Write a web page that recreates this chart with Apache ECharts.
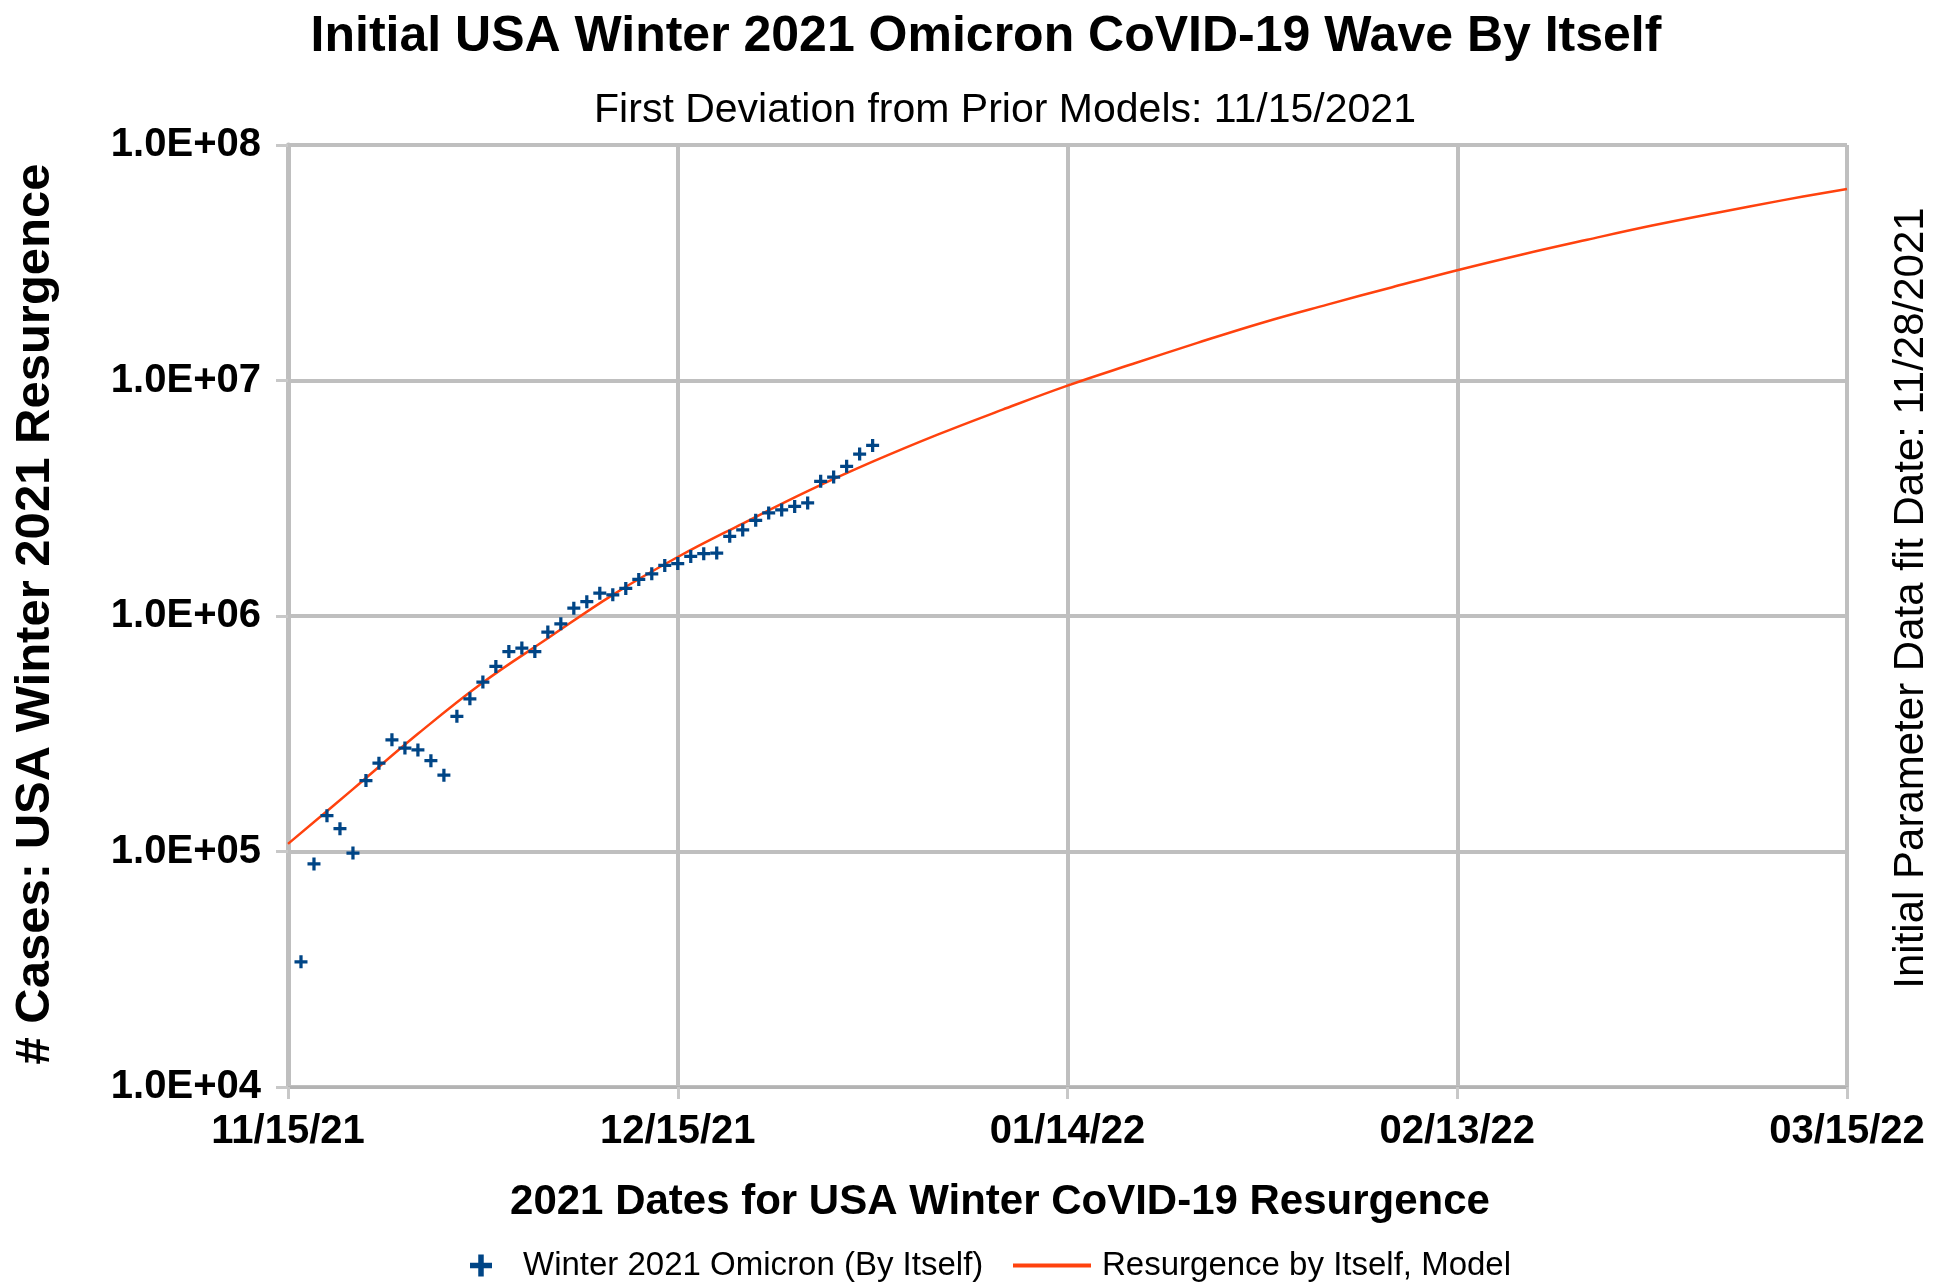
<!DOCTYPE html>
<html>
<head>
<meta charset="utf-8">
<title>Initial USA Winter 2021 Omicron CoVID-19 Wave By Itself</title>
<script src="https://cdn.jsdelivr.net/npm/echarts@6/dist/echarts.min.js"></script>
<style>
  html, body { margin: 0; padding: 0; background: #fff; }
  #chart { width: 1933px; height: 1282px; }
</style>
</head>
<body>
<div id="chart"></div>
<script>
// x axis counts days after 11/15/21
const xTickLabels = ['11/15/21', '12/15/21', '01/14/22', '02/13/22', '03/15/22']
const yTickLabels = ['1.0E+04', '1.0E+05', '1.0E+06', '1.0E+07', '1.0E+08']

// daily cases, first point is 11/16/21 (day 1)
const caseStartDay = 1
const caseValues = [
  34000, 88500, 142000, 125000, 98500, 200000, 237000, 298000, 275000, 270000,
  243000, 211000, 375000, 445000, 524000, 611000, 706000, 731000, 706000, 855000,
  927000, 1080000, 1150000, 1250000, 1230000, 1310000, 1430000, 1510000, 1640000, 1670000,
  1790000, 1840000, 1850000, 2180000, 2320000, 2550000, 2740000, 2820000, 2920000, 3020000,
  3730000, 3890000, 4320000, 4870000, 5300000
]

// model curve, read every 5 days
const modelDays = [0, 5, 10, 15, 20, 25, 30, 35, 40, 45, 50, 55, 60,
  65, 70, 75, 80, 85, 90, 95, 100, 105, 110, 115, 120]
const modelValues = [
  107700, 184000, 316000, 522000, 804000, 1230000, 1780000, 2470000, 3390000, 4520000,
  5890000, 7520000, 9510000, 11750000, 14450000, 17600000, 21000000, 24900000, 29400000,
  34300000, 39600000, 45500000, 51600000, 58200000, 65000000
]

const caseName = 'Winter 2021 Omicron (By Itself)'
const modelName = 'Resurgence by Itself, Model'
const FONT = '"Liberation Sans", Arial, sans-serif'
const plusPath = 'path://M4.5,0H7.5V4.5H12V7.5H7.5V12H4.5V7.5H0V4.5H4.5Z'

const getChartOption = () => {
  const caseData = caseValues.map((v, i) => [caseStartDay + i, v])
  const modelData = modelDays.map((d, i) => [d, modelValues[i]])

  return {
    backgroundColor: '#fff',
    animation: false,
    grid: { left: 288, right: 86, top: 145, bottom: 195 },
    xAxis: {
      type: 'value',
      min: 0,
      max: 120,
      interval: 30,
      axisLine: { show: true, lineStyle: { color: '#b3b3b3', width: 3 } },
      axisTick: { show: true, length: 12, lineStyle: { color: '#c8c8c8', width: 3 } },
      splitLine: { show: true, lineStyle: { color: '#bfbfbf', width: 4 } },
      axisLabel: {
        margin: 25,
        fontFamily: FONT,
        fontWeight: 'bold',
        fontSize: 40,
        color: '#000',
        formatter: (v) => xTickLabels[Math.round(v / 30)] || ''
      }
    },
    yAxis: {
      type: 'log',
      logBase: 10,
      min: 1e4,
      max: 1e8,
      axisLine: { show: true, lineStyle: { color: '#bfbfbf', width: 5 } },
      axisTick: { show: true, length: 12, lineStyle: { color: '#c8c8c8', width: 3 } },
      splitLine: { show: true, lineStyle: { color: '#bfbfbf', width: 4 } },
      axisLabel: {
        margin: 27,
        fontFamily: FONT,
        fontWeight: 'bold',
        fontSize: 40,
        color: '#000',
        formatter: (v) => yTickLabels[Math.round(Math.log10(v)) - 4] || ''
      }
    },
    legend: [
      {
        data: [{ name: caseName, icon: plusPath }],
        left: 470,
        top: 1249,
        padding: 0,
        itemWidth: 22,
        itemHeight: 22,
        textStyle: { fontFamily: FONT, fontSize: 33, color: '#000', padding: [0, 0, 0, 26] }
      },
      {
        data: [{ name: modelName, icon: 'rect' }],
        left: 1013,
        top: 1249,
        padding: 0,
        itemWidth: 78,
        itemHeight: 4,
        textStyle: { fontFamily: FONT, fontSize: 33, color: '#000', padding: [0, 0, 0, 6] }
      }
    ],
    series: [
      {
        name: modelName,
        type: 'line',
        smooth: 0.4,
        showSymbol: false,
        data: modelData,
        itemStyle: { color: '#ff420e' },
        lineStyle: { color: '#ff420e', width: 2.5 },
        z: 2
      },
      {
        name: caseName,
        type: 'scatter',
        symbol: plusPath,
        symbolSize: 13,
        data: caseData,
        itemStyle: { color: '#004586', opacity: 1 },
        z: 3
      }
    ],
    graphic: [
      {
        type: 'text', x: 986, y: 37,
        style: { text: 'Initial USA Winter 2021 Omicron CoVID-19 Wave By Itself', font: 'bold 50px ' + FONT, fill: '#000', align: 'center', verticalAlign: 'middle' }
      },
      {
        type: 'text', x: 1005, y: 111,
        style: { text: 'First Deviation from Prior Models: 11/15/2021', font: '41px ' + FONT, fill: '#000', align: 'center', verticalAlign: 'middle' }
      },
      {
        type: 'text', x: 1000, y: 1202,
        style: { text: '2021 Dates for USA Winter CoVID-19 Resurgence', font: 'bold 42px ' + FONT, fill: '#000', align: 'center', verticalAlign: 'middle' }
      },
      {
        type: 'text', x: 35, y: 614, rotation: Math.PI / 2,
        style: { text: '# Cases: USA Winter 2021 Resurgence', font: 'bold 49px ' + FONT, fill: '#000', align: 'center', verticalAlign: 'middle' }
      },
      {
        type: 'text', x: 1911, y: 598, rotation: Math.PI / 2,
        style: { text: 'Initial Parameter Data fit Date: 11/28/2021', font: '42px ' + FONT, fill: '#000', align: 'center', verticalAlign: 'middle' }
      }
    ]
  }
}

const chartInstance = echarts.init(document.getElementById('chart'))
chartInstance.setOption(getChartOption())
</script>
</body>
</html>
